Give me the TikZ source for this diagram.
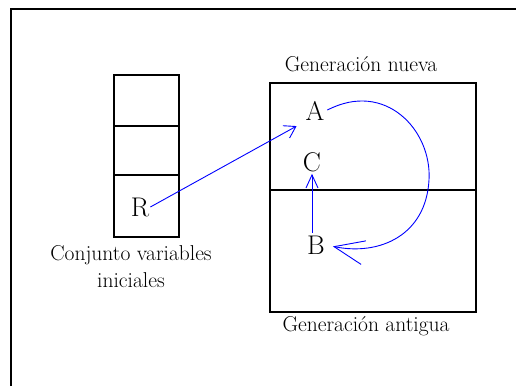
\documentclass[tikz,border=0pt]{standalone}
\usetikzlibrary{arrows.meta}

\tikzset{
  celda/.style={draw, line width=1.1pt},
  flecha/.style={blue, line width=0.9pt},
  letra/.style={font=\fontsize{27}{30}\selectfont, inner sep=1pt},
  rotulo/.style={font=\fontsize{21.5}{27}\selectfont, align=center, inner sep=0pt}
}

\begin{document}
\begin{tikzpicture}[x=1pt, y=-1pt]
        \useasboundingbox (0,0) rectangle (516,386);

        % Marco
        \draw[line width=1.1pt] (11,386) -- (11,9) -- (516,9);

        % ==========================================
        % Conjunto de variables iniciales
        % ==========================================
        \draw[celda] (114,75) rectangle (179,237);
        \draw[celda] (114,126) -- (179,126);
        \draw[celda] (114,175) -- (179,175);
        \node[letra] (R) at (140,207) {R};
        \node[rotulo] (conjunto) at (131,267) {Conjunto variables\\iniciales};

        % ==========================================
        % Generaciones
        % ==========================================
        \draw[celda] (270,83) rectangle (476,312);
        \draw[celda] (270,190) -- (476,190);
        \node[rotulo] (nueva) at (361,64) {Generación nueva};
        \node[rotulo] (antigua) at (366,326) {Generación antigua};

        \node[letra] (A) at (315,111) {A};
        \node[letra] (C) at (312,162) {C};
        \node[letra] (B) at (316,245) {B};

        % Flechas
        \draw[flecha, -{Straight Barb[length=11pt, width=14pt]}, shorten >=9pt]
            (R.east) -- (A.south west);
        \draw[flecha, -{Straight Barb[length=13pt, width=12pt]}, shorten <=2pt, shorten >=1pt]
            (C.south |- B.north) -- (C.south);
        \draw[flecha, -{Straight Barb[length=30pt, width=24pt]}, shorten <=2pt, shorten >=7pt]
            (A.east) .. controls (385,80) and (432,130) .. (429,180)
            .. controls (426,235) and (380,256) .. (B.east);

\end{tikzpicture}
\end{document}
